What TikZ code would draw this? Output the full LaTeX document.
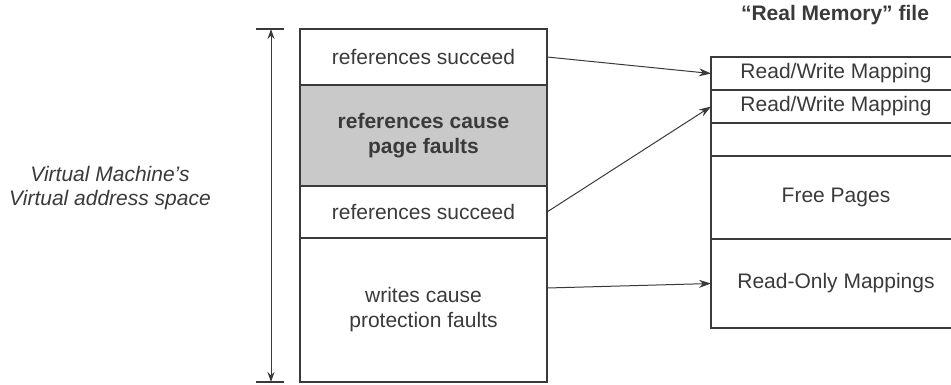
\documentclass[tikz,border=0pt]{standalone}
\usepackage{fontspec}
\setmainfont{Liberation Sans}
\usetikzlibrary{arrows.meta,calc}
\definecolor{ink}{HTML}{3A3A3A}
\definecolor{shade}{HTML}{C9C9C9}
\begin{document}
\begin{tikzpicture}[x=1pt,y=-1pt,
  every node/.style={text=ink},
  cell/.style={draw=ink,line width=1.6pt,rectangle,inner sep=0pt,outer sep=0pt,
    align=center,font=\fontsize{21}{24}\selectfont},
  lcell/.style={cell,minimum width=247pt},
  rcell/.style={cell,minimum width=250pt},
  conn/.style={draw=ink,line width=1pt,-{Stealth[length=12pt,width=8pt]}},
  dim/.style={draw=ink,line width=1pt,{Stealth[length=10pt,width=7pt]}-{Stealth[length=10pt,width=7pt]}},
  tick/.style={draw=ink,line width=1.4pt}]
\useasboundingbox (0,0) rectangle (951,384);
% left column
\node[lcell,minimum height=56pt] (l1) at (423.5,57) {references succeed};
\node[lcell,minimum height=101pt,fill=shade,font=\fontsize{21}{25}\selectfont\bfseries] (l2) at (423.5,135.5) {references cause\\page faults};
\node[lcell,minimum height=52pt] (l3) at (423.5,212) {references succeed};
\node[lcell,minimum height=144pt,font=\fontsize{21}{25}\selectfont] (l4) at (423.5,310) {writes cause\\protection faults};
% right column
\node[rcell,minimum height=33pt] (r1) at (836,73.5) {Read/Write Mapping};
\node[rcell,minimum height=33pt] (r2) at (836,106.5) {Read/Write Mapping};
\node[rcell,minimum height=33pt] (r3) at (836,139.5) {};
\node[rcell,minimum height=83pt] (r4) at (836,197.5) {Free Pages};
\node[rcell,minimum height=89pt] (r5) at (836,283.5) {Read-Only Mappings};
% title and side label
\node[font=\fontsize{21}{24}\selectfont\bfseries] (title) at (835,15) {“Real Memory” file};
\node[font=\fontsize{21}{24}\selectfont\itshape,align=center] (vlab) at (110,188) {Virtual Machine’s\\Virtual address space};
% dimension arrow
\coordinate (vt) at (271,29);
\coordinate (vb) at (271,382);
\draw[tick] (256,29) -- (284,29);
\draw[tick] (256,382) -- (284,382);
\draw[dim] (vt) -- (vb);
% connectors
\draw[conn] (l1.east) -- (r1.west);
\draw[conn] (l3.east) -- (r2.west);
\draw[conn] ([yshift=-50pt]l4.north east) -- (r5.west);
\end{tikzpicture}
\end{document}
